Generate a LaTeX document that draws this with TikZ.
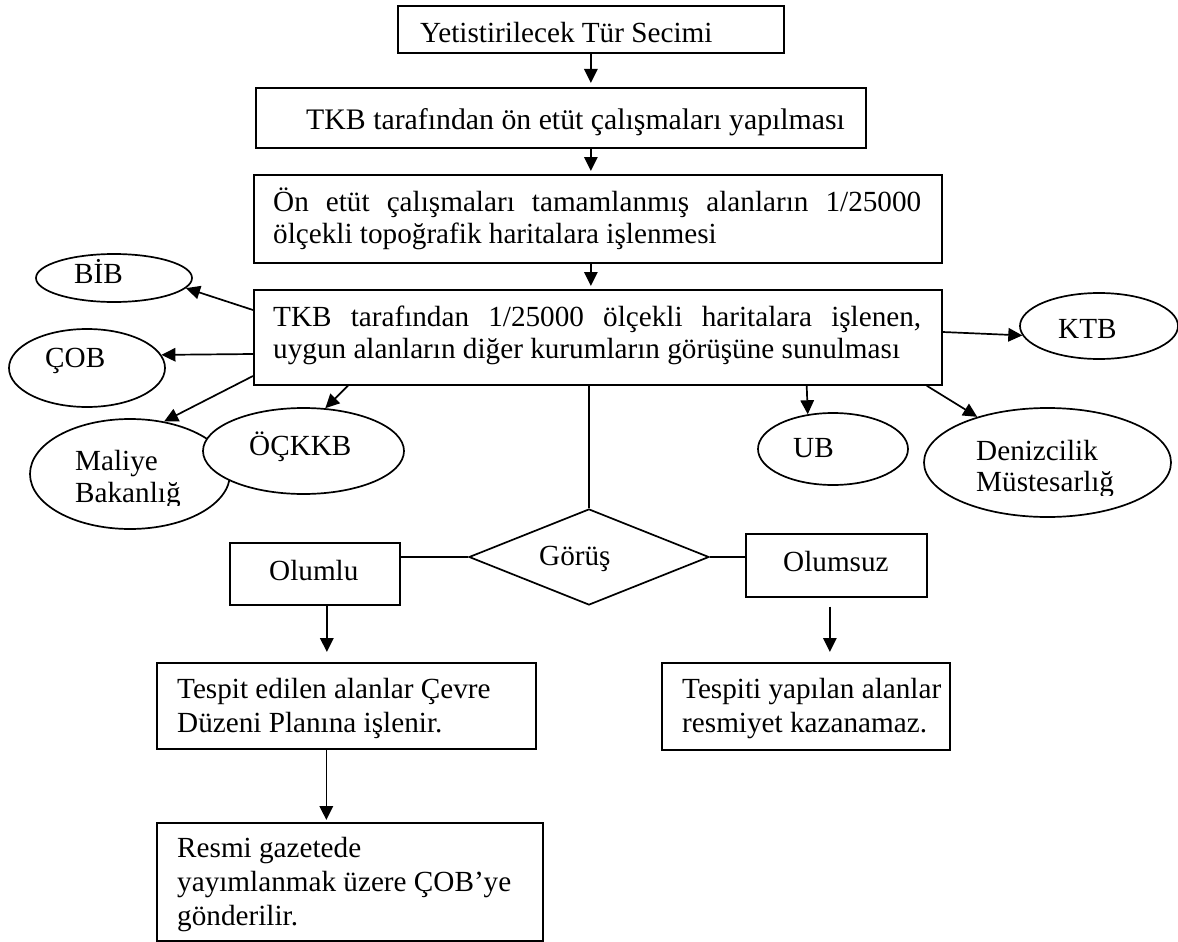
\documentclass[tikz,border=0pt]{standalone}
\usepackage{fontspec}
\setmainfont{Liberation Serif}
\usetikzlibrary{shapes.geometric,arrows.meta}
\begin{document}
\begin{tikzpicture}[x=1pt,y=-1pt,
  every node/.style={font=\fontsize{29.2pt}{33pt}\selectfont},
  box/.style={draw, rectangle, line width=1.7pt, inner sep=0pt, anchor=north west},
  ell/.style={draw, ellipse, line width=1.7pt, inner sep=0pt, fill=white},
  txt/.style={anchor=base west, inner sep=0pt},
  link/.style={line width=1.7pt},
  arr/.style={line width=1.7pt, -{Triangle[length=14pt,width=13.5pt]}}]
\fill[white] (0,0) rectangle (1178,942);
\useasboundingbox (0,0) rectangle (1178,942);

% main chain of boxes
\node[box, minimum width=386pt, minimum height=47pt] (b1) at (397,5) {};
\node[txt] (t1) at (420,43) {Yetistirilecek Tür Secimi};

\node[box, minimum width=610pt, minimum height=60pt] (b2) at (255,87) {};
\node[txt, font=\fontsize{29.8pt}{33pt}\selectfont] (t2) at (306,129) {TKB tarafından ön etüt çalışmaları yapılması};

\node[box, minimum width=688pt, minimum height=88pt] (b3) at (253,174) {};
\node[txt, font=\fontsize{29.2pt}{32pt}\selectfont] (t3) at (273,211)
  {\parbox[t]{648pt}{Ön etüt çalışmaları tamamlanmış alanların 1/25000\linebreak ölçekli topoğrafik haritalara işlenmesi}};

\node[box, minimum width=688pt, minimum height=95pt] (b4) at (253,289) {};
\node[txt, font=\fontsize{29.2pt}{32pt}\selectfont] (t4) at (273,326)
  {\parbox[t]{648pt}{TKB tarafından 1/25000 ölçekli haritalara işlenen,\linebreak uygun alanların diğer kurumların görüşüne sunulması}};

\draw[arr, shorten >=4pt] (b1.south) -- (b1.south |- b2.north);
\draw[arr, shorten >=3pt] (b1.south |- b2.south) -- (b1.south |- b3.north);
\draw[arr, shorten >=3pt] (b1.south |- b3.south) -- (b1.south |- b4.north);

% institutions asked for their opinion
\node[ell, minimum width=156pt, minimum height=48pt] (bib) at (114,278) {};
\node[txt] (tbib) at (74,283) {BİB};
\node[ell, minimum width=156pt, minimum height=78pt] (cob) at (87,368) {};
\node[txt] (tcob) at (45,367) {ÇOB};
\node[ell, minimum width=200pt, minimum height=110pt] (mal) at (130,474) {};
\begin{scope}
  \clip (60,440) rectangle (220,505);
  \node[txt, font=\fontsize{29.2pt}{32pt}\selectfont] (tmal) at (75,470)
    {\parbox[t]{150pt}{Maliye\\Bakanlığ}};
\end{scope}
\node[ell, minimum width=201pt, minimum height=86pt] (ock) at (303.5,451) {};
\node[txt] (tock) at (249,455) {ÖÇKKB};
\node[ell, minimum width=158pt, minimum height=66pt] (ktb) at (1099,326) {};
\node[txt] (tktb) at (1058,338) {KTB};
\node[ell, minimum width=150pt, minimum height=72pt] (ub) at (833,449) {};
\node[txt] (tub) at (793,457) {UB};
\node[ell, minimum width=247pt, minimum height=109pt] (den) at (1047.5,462.5) {};
\begin{scope}
  \clip (960,430) rectangle (1160,495);
  \node[txt, font=\fontsize{29.2pt}{31pt}\selectfont] (tden) at (976,460)
    {\parbox[t]{180pt}{Denizcilik\\Müstesarlığ}};
\end{scope}

\draw[arr] ([shift={(0,21)}]b4.north west) -- (bib.-8);
\draw[arr] ([shift={(0,65)}]b4.north west) -- (cob.10);
\draw[arr] ([shift={(0,87)}]b4.north west) -- (mal.57);
\draw[arr] ([shift={(95,0)}]b4.south west) -- (ock.63);
\draw[arr] ([shift={(0,43)}]b4.north east) -- (ktb.187);
\draw[arr] ([shift={(-136,0)}]b4.south east) -- (ub.126);
\draw[arr] ([shift={(-16,0)}]b4.south east) -- (den.147);

% decision
\node[draw, diamond, line width=1.7pt, inner sep=0pt, aspect=2.5,
      minimum width=240pt, minimum height=96pt] (dia) at (589,557) {};
\node[txt] (tdia) at (539,565) {Görüş};
\draw[link] (dia.north |- b4.south) -- (dia.north);

\node[box, minimum width=170pt, minimum height=62pt] (olumlu) at (229,542) {};
\node[txt] (tolumlu) at (269,580) {Olumlu};
\node[box, minimum width=181pt, minimum height=63pt] (olumsuz) at (745,533) {};
\node[txt] (tolumsuz) at (783,571) {Olumsuz};
\draw[link] (dia.west) -- (dia.west -| olumlu.east);
\draw[link] (dia.east) -- (dia.east -| olumsuz.west);

% outcomes
\node[box, minimum width=379pt, minimum height=86pt] (tespit) at (156,662) {};
\node[txt, font=\fontsize{29.2pt}{34pt}\selectfont] (ttespit) at (177,698)
  {\parbox[t]{350pt}{Tespit edilen alanlar Çevre\\Düzeni Planına işlenir.}};
\node[box, minimum width=288pt, minimum height=87pt] (tespiti) at (661,662) {};
\node[txt, font=\fontsize{29.2pt}{34pt}\selectfont] (ttespiti) at (682,698)
  {\parbox[t]{265pt}{Tespiti yapılan alanlar\\resmiyet kazanamaz.}};
\node[box, minimum width=386pt, minimum height=118pt] (resmi) at (156,822) {};
\node[txt, font=\fontsize{29.2pt}{34pt}\selectfont] (tresmi) at (177,857)
  {\parbox[t]{360pt}{Resmi gazetede\\yayımlanmak üzere ÇOB’ye\\gönderilir.}};

\draw[arr, shorten >=10pt] ([xshift=12pt]olumlu.south) -- ([xshift=12pt]olumlu.south |- tespit.north);
\draw[arr, shorten >=10pt] ([shift={(-6.5,9)}]olumsuz.south) -- ([shift={(-6.5,0)}]olumsuz.south |- tespiti.north);
\draw[arr, shorten >=2pt] ([xshift=-20pt]tespit.south) -- ([xshift=-20pt]tespit.south |- resmi.north);
\end{tikzpicture}
\end{document}
